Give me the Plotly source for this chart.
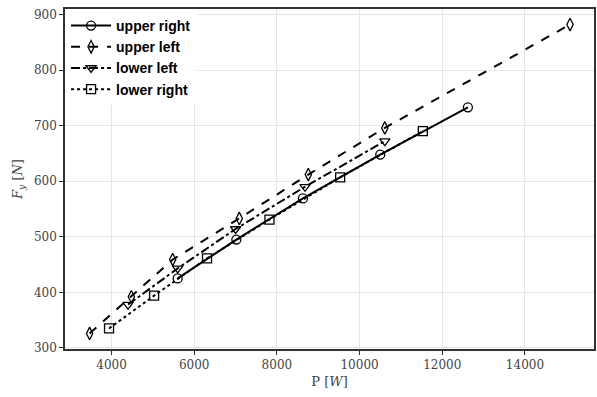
import plotly.graph_objects as go

ur_x = [5600, 7020, 8630, 10500, 12620]
ur_y = [425, 495, 569, 648, 733]

ul_x = [3470, 4480, 5480, 7090, 8760, 10610, 15090]
ul_y = [326, 392, 459, 533, 612, 696, 882]

ll_x = [4400, 5600, 7000, 8680, 10610]
ll_y = [378, 443, 514, 590, 672]

lr_x = [3940, 5030, 6310, 7820, 9530, 11530]
lr_y = [335, 394, 461, 531, 607, 690]

x_ticks = [4000, 6000, 8000, 10000, 12000, 14000]
y_ticks = [300, 400, 500, 600, 700, 800, 900]

series = [
    ("upper right", ur_x, ur_y, "solid", "circle-open"),
    ("upper left", ul_x, ul_y, "dash", "diamond-tall-open"),
    ("lower left", ll_x, ll_y, "dashdot", "triangle-down-open"),
    ("lower right", lr_x, lr_y, "dot", "square-open"),
]

fig = go.Figure()
for name, xs, ys, dash, sym in series:
    fig.add_trace(go.Scatter(
        x=xs, y=ys, name=name, mode="lines+markers",
        line=dict(color="black", width=2, dash=dash),
        marker=dict(symbol=sym, size=9, color="black", line=dict(width=1.3, color="black")),
    ))

tickfont = dict(family="DejaVu Serif, Liberation Serif, serif", size=12, color="#444")
axis_common = dict(
    showline=True, linecolor="#333", linewidth=1.5, mirror=True,
    ticks="outside", ticklen=4, tickcolor="#333",
    showgrid=True, gridcolor="#e6e6e6", gridwidth=1,
    zeroline=False, tickfont=tickfont, tickformat="d",
)

fig.update_layout(
    width=597, height=397,
    margin=dict(l=65, r=1, t=9, b=48),
    plot_bgcolor="white", paper_bgcolor="white",
    xaxis=dict(range=[2875, 15670], tickvals=x_ticks,
               title=dict(text="P [<i>W</i>]", font=dict(family="DejaVu Serif, serif", size=13, color="#444"), standoff=6),
               **axis_common),
    yaxis=dict(range=[298, 910], tickvals=y_ticks,
               title=dict(text="<i>F<sub>y</sub></i> [<i>N</i>]", font=dict(family="DejaVu Serif, serif", size=13, color="#444"), standoff=8),
               **axis_common),
    legend=dict(x=0.002, y=0.997, xanchor="left", yanchor="top", bgcolor="white",
                borderwidth=0, font=dict(family="Arial, Liberation Sans, sans-serif", size=14, color="black", weight="bold"),
                tracegroupgap=0, itemwidth=40),
    showlegend=True,
)

fig.write_html("out.html")
